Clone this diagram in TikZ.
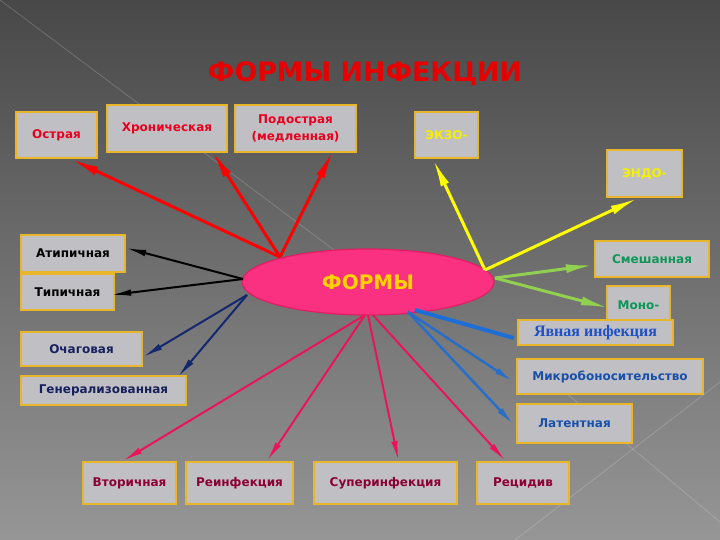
\documentclass[tikz,border=0pt]{standalone}
\usepackage{fontspec}
\setmainfont{DejaVu Sans}
\newfontfamily\serifbold{Liberation Serif}
\usetikzlibrary{arrows.meta,shapes.geometric}
\definecolor{bgtop}{RGB}{72,72,72}
\definecolor{bgbot}{RGB}{150,150,150}
\definecolor{boxfill}{RGB}{192,192,196}
\definecolor{boxedge}{RGB}{232,182,40}
\definecolor{redtxt}{RGB}{232,0,30}
\definecolor{yeltxt}{RGB}{245,240,0}
\definecolor{navytxt}{RGB}{22,32,92}
\definecolor{greentxt}{RGB}{16,150,90}
\definecolor{bluetxt}{RGB}{30,80,200}
\definecolor{blue2txt}{RGB}{25,80,170}
\definecolor{crimtxt}{RGB}{140,0,50}
\definecolor{arred}{RGB}{255,0,0}
\definecolor{aryel}{RGB}{255,255,0}
\definecolor{argreen}{RGB}{146,208,80}
\definecolor{arnavy}{RGB}{20,40,110}
\definecolor{arblue}{RGB}{30,110,215}
\definecolor{arblue2}{RGB}{40,110,200}
\definecolor{arcrim}{RGB}{235,20,90}
\definecolor{ellfill}{RGB}{250,48,128}
\definecolor{elledge}{RGB}{225,30,100}
\definecolor{titlered}{RGB}{230,0,0}
\definecolor{formsyel}{RGB}{255,210,0}
\tikzset{
  box/.style={draw=boxedge, line width=2.2pt, fill=boxfill, inner sep=0pt,
    font=\bfseries\fontsize{12}{17}\selectfont, align=center},
  bigarrow/.style={line width=3pt, -{Latex[length=28pt,width=9pt]}},
  smallarrow/.style={line width=2pt, -{Latex[length=20pt,width=6.5pt]}},
  deco/.style={draw=white, draw opacity=0.18, line width=0.8pt}
}
\begin{document}
\begin{tikzpicture}[x=1pt,y=-1pt]
\useasboundingbox (0,0) rectangle (720,540);
\shade[top color=bgtop, bottom color=bgbot] (0,0) rectangle (720,540);
\draw[deco] (0,0) -- (350,262);
\draw[deco] (720,382) -- (515,540);
\draw[deco] (560,388) -- (720,522);

% title
\node (title) at (365,74) {\resizebox{314pt}{!}{\bfseries\color{titlered}ФОРМЫ ИНФЕКЦИИ}};

% central ellipse
\node[ellipse, draw=elledge, line width=1.2pt, fill=ellfill, minimum width=252pt, minimum height=66pt, inner sep=0pt] (forms) at (368,282) {};
\node (formstxt) at (368,282) {\resizebox{92pt}{!}{\bfseries\color{formsyel}ФОРМЫ}};

% start points on the ellipse
\coordinate (pR) at (280,257);
\coordinate (pY) at (485,270);
\coordinate (pG) at (495,278);
\coordinate (pK) at (243,279);
\coordinate (pN) at (247,295);
\coordinate (pB1) at (415,310);
\coordinate (pB2) at (408,312);
\coordinate (pC1) at (365,315);
\coordinate (pC2) at (368,315);
\coordinate (pC3) at (373,315);

% boxes
\node[box, text=redtxt, minimum width=81pt, minimum height=46pt] (ostr) at (56.5,135) {Острая};
\node[box, text=redtxt, minimum width=120pt, minimum height=47pt] (hron) at (167,128.5) {Хроническая};
\node[box, text=redtxt, minimum width=121pt, minimum height=47pt] (podo) at (295.5,128.5) {Подострая\\(медленная)};
\node[box, text=yeltxt, minimum width=63pt, minimum height=46pt] (ekzo) at (446.5,135) {ЭКЗО-};
\node[box, text=yeltxt, minimum width=75pt, minimum height=47pt] (endo) at (644.5,173.5) {ЭНДО-};
\node[box, text=black, minimum width=104pt, minimum height=37pt] (atip) at (73,253.5) {Атипичная};
\node[box, text=black, minimum width=93pt, minimum height=36pt] (tipn) at (67.5,292) {Типичная};
\node[box, text=navytxt, minimum width=121pt, minimum height=34pt] (och) at (81.5,349) {Очаговая};
\node[box, text=navytxt, minimum width=165pt, minimum height=29pt] (gen) at (103.5,390.5) {Генерализованная};
\node[box, text=greentxt, minimum width=114pt, minimum height=36pt] (smesh) at (652,259) {Смешанная};
\node[box, text=greentxt, minimum width=63pt, minimum height=38pt] (mono) at (638.5,305) {Моно-};
\node[box, text=bluetxt, minimum width=155pt, minimum height=25pt, font=\serifbold\bfseries\fontsize{16}{18}\selectfont] (yavn) at (595.5,332.5) {Явная инфекция};
\node[box, text=blue2txt, minimum width=186pt, minimum height=35pt] (mikro) at (610,376.5) {Микробоносительство};
\node[box, text=blue2txt, minimum width=115pt, minimum height=39pt] (lat) at (574.5,423.5) {Латентная};
\node[box, text=crimtxt, minimum width=93pt, minimum height=42pt] (vtor) at (129.5,483) {Вторичная};
\node[box, text=crimtxt, minimum width=107pt, minimum height=42pt] (reinf) at (239.5,483) {Реинфекция};
\node[box, text=crimtxt, minimum width=143pt, minimum height=42pt] (super) at (385.5,483) {Суперинфекция};
\node[box, text=crimtxt, minimum width=92pt, minimum height=42pt] (recid) at (523,483) {Рецидив};

% connectors
\draw[bigarrow, arred] (pR) -- ([xshift=14.5pt]ostr.south);
\draw[bigarrow, arred] (pR) -- ([xshift=45pt,yshift=2pt]hron.south);
\draw[bigarrow, arred] (pR) -- ([xshift=37.5pt,yshift=2pt]podo.south);
\draw[bigarrow, aryel] (pY) -- ([xshift=-13.5pt]ekzo.south);
\draw[bigarrow, aryel] (pY) -- ([xshift=-6.5pt]endo.south);
\draw[bigarrow, argreen] (pG) -- ([yshift=-6pt]smesh.west);
\draw[bigarrow, argreen] (pG) -- ([xshift=3pt,yshift=-3pt]mono.west);
\draw[smallarrow, black] (pK) -- ([yshift=5.5pt]atip.east);
\draw[smallarrow, black] (pK) -- ([xshift=-4pt,yshift=-3pt]tipn.east);
\draw[smallarrow, arnavy] (pN) -- ([yshift=-8pt]och.east);
\draw[smallarrow, arnavy] (pN) -- ([xshift=74.5pt,yshift=-2pt]gen.north);
\draw[line width=4pt, arblue] (pB1) -- ([xshift=-3pt,yshift=-5.5pt]yavn.west);
\draw[smallarrow, line width=2.5pt, arblue2] (pB2) -- ([xshift=-2pt,yshift=-5.5pt]mikro.west);
\draw[smallarrow, line width=2.5pt, arblue2] (pB2) -- ([xshift=-2pt,yshift=-1.5pt]lat.west);
\draw[smallarrow, arcrim] (pC1) -- ([xshift=-6.5pt]vtor.north);
\draw[smallarrow, arcrim] (pC1) -- ([xshift=27.5pt]reinf.north);
\draw[smallarrow, arcrim] (pC2) -- ([xshift=13pt]super.north);
\draw[smallarrow, arcrim] (pC3) -- ([xshift=-17.5pt]recid.north);
\end{tikzpicture}
\end{document}
